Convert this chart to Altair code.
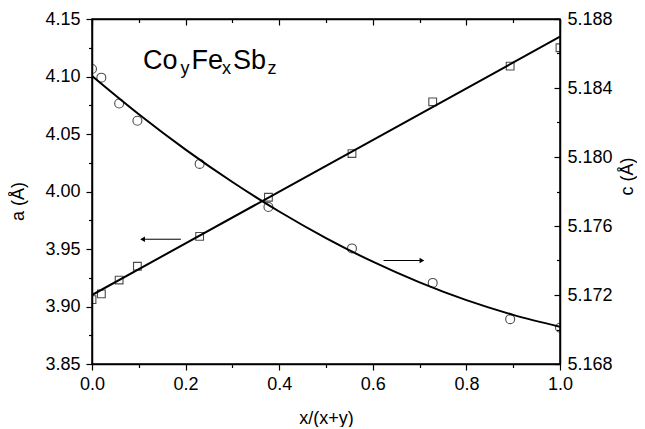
import altair as alt
import pandas as pd

# ---- data ----
x_pts = [0.0, 0.02, 0.058, 0.097, 0.230, 0.377, 0.5555, 0.728, 0.8935, 1.0]
a_pts = [3.906, 3.911, 3.923, 3.935, 3.961, 3.995, 4.033, 4.078, 4.109, 4.125]
c_pts = [5.1851, 5.1846, 5.1831, 5.1821, 5.1796, 5.1771, 5.1747, 5.1727, 5.1706, 5.1701]

a_fit_x = [0.0, 1.0]
a_fit = [3.910, 4.1346]
c_fit_x = [0.0, 0.1, 0.2, 0.3, 0.4, 0.5, 0.6, 0.7, 0.8, 0.9, 1.0]
c_fit = [5.1847, 5.18248, 5.18043, 5.17855, 5.17684, 5.17530, 5.17393, 5.17273, 5.17170, 5.17085, 5.17016]

arrow_a_x = [0.108, 0.19]
arrow_a_y = [3.9585]
arrow_c_x = [0.623, 0.705]
arrow_c_y = [5.174]

x_ticks = [0.0, 0.1, 0.2, 0.3, 0.4, 0.5, 0.6, 0.7, 0.8, 0.9, 1.0]
a_ticks = [3.85, 3.875, 3.9, 3.925, 3.95, 3.975, 4.0, 4.025, 4.05, 4.075, 4.1, 4.125, 4.15]
c_ticks = [5.168, 5.170, 5.172, 5.174, 5.176, 5.178, 5.180, 5.182, 5.184, 5.186, 5.188]

FONT = "Liberation Sans"

pts = pd.DataFrame({"x": x_pts, "a": a_pts, "c": c_pts})
afit = pd.DataFrame({"x": a_fit_x, "a": a_fit})
cfit = pd.DataFrame({"x": c_fit_x, "c": c_fit})
arr_a = pd.DataFrame({"x0": [arrow_a_x[0]], "x1": [arrow_a_x[1]], "a": arrow_a_y})
arr_c = pd.DataFrame({"x0": [arrow_c_x[0]], "x1": [arrow_c_x[1]], "c": arrow_c_y})
one = pd.DataFrame({"k": [0]})

xs = alt.Scale(domain=[0, 1], nice=False, zero=False)
ya = alt.Scale(domain=[3.85, 4.15], nice=False, zero=False)
yc = alt.Scale(domain=[5.168, 5.188], nice=False, zero=False)

maj_x = "abs(datum.value*5 - round(datum.value*5)) < 0.001"
maj_a = "abs(datum.value*20 - round(datum.value*20)) < 0.001"
maj_c = "abs(datum.value*250 - round(datum.value*250)) < 0.01"

common = dict(grid=False, domainColor="black", tickColor="black", labelColor="black",
              titleColor="black", labelFont=FONT, titleFont=FONT, labelFontSize=18,
              titleFontSize=18, titleFontWeight="normal", domainWidth=1.5, tickWidth=1.2,
              labelOverlap=False)

ax_bottom = alt.Axis(orient="bottom", values=x_ticks,
                     labelExpr=f"{maj_x} ? format(datum.value, '.1f') : ''",
                     tickSize={"condition": {"test": maj_x, "value": 6}, "value": 3.5},
                     labelPadding=5, labelFlush=False, title="x/(x+y)",
                     titleY=59, titleBaseline="alphabetic", **common)
ax_top = alt.Axis(orient="top", values=x_ticks, labels=False, title=None,
                  tickSize={"condition": {"test": maj_x, "value": -6}, "value": -3.5},
                  **common)
ax_left = alt.Axis(orient="left", values=a_ticks,
                   labelExpr=f"{maj_a} ? format(datum.value, '.2f') : ''",
                   tickSize={"condition": {"test": maj_a, "value": 6}, "value": 3.5},
                   labelPadding=6, title="a (Å)", titleAngle=270, titleX=-74, titleY=182,
                   titleBaseline="middle", **common)
ax_right = alt.Axis(orient="right", values=c_ticks,
                    labelExpr=f"{maj_c} ? format(datum.value, '.3f') : ''",
                    tickSize={"condition": {"test": maj_c, "value": -6}, "value": -3.5},
                    labelPadding=13, title="c (Å)", titleAngle=270, titleX=67, titleY=157,
                    titleBaseline="middle", **common)

X_b = alt.X("x:Q", scale=xs, axis=ax_bottom)
X_t = alt.X("x:Q", scale=xs, axis=ax_top)
Y_a = alt.Y("a:Q", scale=ya, axis=ax_left)
Y_c = alt.Y("c:Q", scale=yc, axis=ax_right)

# ---- left (a) group ----
sq = alt.Chart(pts).mark_point(shape="square", filled=False, color="black", size=60,
                               strokeWidth=1.1, clip=True).encode(x=X_b, y=Y_a)
aline = alt.Chart(afit).mark_line(color="black", strokeWidth=2, clip=True).encode(x=X_b, y=Y_a)
arrA = alt.Chart(arr_a).mark_rule(color="black", strokeWidth=1).encode(
    x=alt.X("x0:Q", scale=xs, axis=ax_bottom), x2="x1:Q", y=Y_a)
headA = alt.Chart(arr_a).mark_point(shape="triangle-left", filled=True, color="black",
                                    size=30, opacity=1).encode(
    x=alt.X("x0:Q", scale=xs, axis=ax_bottom), y=Y_a)


def txt(s, px, py, fs):
    return alt.Chart(one).mark_text(text=s, font=FONT, fontSize=fs, color="black",
                                    align="left", baseline="alphabetic").encode(
        x=alt.value(px), y=alt.value(py))


label = [txt("Co", 51, 49.5, 27), txt("y", 88.5, 55, 18), txt("Fe", 99.5, 49.5, 27),
         txt("x", 130, 55, 18), txt("Sb", 141, 49.5, 27), txt("z", 175.5, 55, 18)]

left = alt.layer(aline, sq, arrA, headA, *label)

# ---- right (c) group ----
ci = alt.Chart(pts).mark_point(shape="circle", filled=False, color="black", size=80,
                               strokeWidth=1.1, clip=True).encode(x=X_t, y=Y_c)
cline = alt.Chart(cfit).mark_line(color="black", strokeWidth=2, clip=True,
                                  interpolate="monotone").encode(x=X_t, y=Y_c)
arrC = alt.Chart(arr_c).mark_rule(color="black", strokeWidth=1).encode(
    x=alt.X("x0:Q", scale=xs, axis=ax_top), x2="x1:Q", y=Y_c)
headC = alt.Chart(arr_c).mark_point(shape="triangle-right", filled=True, color="black",
                                    size=30, opacity=1).encode(
    x=alt.X("x1:Q", scale=xs, axis=ax_top), y=Y_c)

right = alt.layer(cline, ci, arrC, headC)

chart = alt.layer(left, right).resolve_scale(x="independent", y="independent").properties(
    width=468, height=345,
    autosize=alt.AutoSizeParams(type="none"),
    padding={"left": 84, "top": 11, "right": 77, "bottom": 63},
    background="white",
).configure_view(stroke="black", strokeWidth=1.5)

chart.save("out.html", embed_options={"renderer": "svg", "actions": False})
